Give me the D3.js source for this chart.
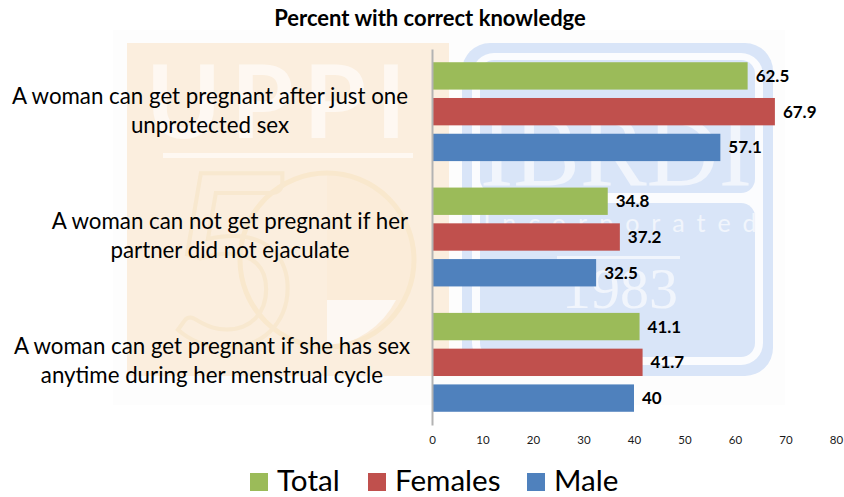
<!DOCTYPE html>
<html>
<head>
<meta charset="utf-8">
<script src="https://cdn.jsdelivr.net/npm/d3@7"></script>
<style>
    html, body { margin: 0; padding: 0; background: #fff; }
    svg { display: block; font-family: Lato, "Open Sans", sans-serif; }
    .axis path { stroke: #b3b3b3; stroke-width: 2; }
    .axis line { display: none; }
</style>
</head>
<body>
<svg id="chart" width="844" height="497"></svg>
<script>
//Chart data.
var questions = [
    ["A woman can get pregnant after just one", "unprotected sex"],
    ["A woman can not get pregnant if her", "partner did not ejaculate"],
    ["A woman can get pregnant if she has sex", "anytime during her menstrual cycle"]
];
var seriesNames = ["Total", "Females", "Male"];
var seriesColors = ["#9bbb59", "#c0504d", "#4f81bd"];
var totalValues = [62.5, 34.8, 41.1];
var femaleValues = [67.9, 37.2, 41.7];
var maleValues = [57.1, 32.5, 40];
var xTicks = [0, 10, 20, 30, 40, 50, 60, 70, 80];

var seriesValues = [totalValues, femaleValues, maleValues];

var svg = d3.select("#chart");

var xScale = d3.scaleLinear().domain([0, 80]).range([432, 836]);
var yGroup = d3.scaleBand().domain(d3.range(questions.length)).range([49, 425]);
var yBar = d3.scaleBand().domain(d3.range(seriesNames.length))
    .range([0, yGroup.bandwidth()])
    .paddingInner(0.235)
    .paddingOuter(0.37);

drawBackground();

//Title.
svg.append("text")
    .attr("x", 430)
    .attr("y", 26)
    .attr("text-anchor", "middle")
    .style("font-size", "22px")
    .style("font-weight", "bold")
    .style("fill", "#000")
    .text("Percent with correct knowledge");

//Bars and their value labels.
seriesValues.forEach(function (values, s) {
    svg.selectAll(".bar" + s)
        .data(values)
        .enter()
        .append("rect")
        .attr("class", "bar" + s)
        .attr("x", xScale(0))
        .attr("y", function (d, i) { return yGroup(i) + yBar(s); })
        .attr("width", function (d) { return xScale(d) - xScale(0); })
        .attr("height", yBar.bandwidth())
        .style("fill", seriesColors[s]);

    svg.selectAll(".label" + s)
        .data(values)
        .enter()
        .append("text")
        .attr("class", "label" + s)
        .attr("x", function (d) { return xScale(d) + 8; })
        .attr("y", function (d, i) { return yGroup(i) + yBar(s) + yBar.bandwidth() / 2 + 6; })
        .style("font-size", "17px")
        .style("font-weight", "bold")
        .style("fill", "#000")
        .text(function (d) { return d; });
});

//Category labels, two lines each.
var labelCentres = [210, 230, 212];
questions.forEach(function (lines, i) {
    var text = svg.append("text")
        .attr("text-anchor", "middle")
        .style("font-size", "22.3px")
        .style("fill", "#000");
    lines.forEach(function (line, k) {
        text.append("tspan")
            .attr("x", labelCentres[i])
            .attr("y", yGroup(i) + yGroup.bandwidth() / 2 - 8 + k * 29)
            .text(line);
    });
});

//Vertical category axis line.
var yAxis = d3.axisLeft(d3.scaleLinear().domain([0, 1]).range([425, 49])).tickValues([]).tickSize(0);
svg.append("g")
    .attr("class", "axis")
    .attr("transform", "translate(" + xScale(0) + ",0)")
    .call(yAxis);

//Value axis, labels only.
var xAxis = d3.axisBottom(xScale).tickValues(xTicks).tickSize(0).tickPadding(0);
var xAxisG = svg.append("g")
    .attr("class", "axis")
    .attr("transform", "translate(0,436)")
    .call(xAxis);
xAxisG.select(".domain").remove();
xAxisG.selectAll("text")
    .style("font-size", "11.5px")
    .style("fill", "#1a1a1a")
    .style("font-family", "Lato, sans-serif");

//Legend.
var legendX = [250, 368, 527];
seriesNames.forEach(function (name, s) {
    svg.append("rect")
        .attr("x", legendX[s])
        .attr("y", 473)
        .attr("width", 18)
        .attr("height", 18)
        .style("fill", seriesColors[s]);
    svg.append("text")
        .attr("x", legendX[s] + 27)
        .attr("y", 491)
        .style("font-size", "29.6px")
        .style("fill", "#000")
        .text(name);
});

//Faded logos behind the chart.
function drawBackground() {
    var serif = "'Liberation Serif', serif";
    var blue = "#d9e5f8";
    var paleBlue = "#f1f5fc";

    svg.append("rect").attr("x", 113).attr("y", 30).attr("width", 672).attr("height", 375).style("fill", "#fdfdfd");

    //Left logo.
    svg.append("rect").attr("x", 127).attr("y", 43).attr("width", 322).attr("height", 333).style("fill", "#fbeede");
    svg.append("text").attr("x", 281).attr("y", 138).attr("text-anchor", "middle")
        .style("font-size", "101px").style("font-weight", "bold").style("letter-spacing", "10px")
        .style("fill", "#fef8f2").text("UPPI");
    svg.append("rect").attr("x", 163).attr("y", 153).attr("width", 250).attr("height", 5).style("fill", "#fef8f2");
    svg.append("path").attr("d", "M327 173 A87 87 0 0 1 414 260 A87 87 0 0 1 327 347 Z").style("fill", "#fbecd9");
    svg.append("path").attr("d", "M327 300 L396 300 A87 87 0 0 1 327 347 Z").style("fill", "#fdf8f3");
    svg.append("circle").attr("cx", 327).attr("cy", 260).attr("r", 87)
        .style("fill", "none").style("stroke", "#f9e8cd").style("stroke-width", 5);
    svg.append("text").attr("x", 234).attr("y", 346).attr("text-anchor", "middle")
        .style("font-size", "240px").style("fill", "none").style("stroke", "#f8e8cf").style("stroke-width", 4).text("5");

    //Right logo.
    svg.append("rect").attr("x", 462).attr("y", 43).attr("width", 311).attr("height", 333).attr("rx", 28).style("fill", blue);
    svg.append("rect").attr("x", 472).attr("y", 53).attr("width", 291).attr("height", 312).attr("rx", 22).style("fill", "#fbfcfe");
    svg.append("rect").attr("x", 480).attr("y", 60).attr("width", 275).attr("height", 133).attr("rx", 14).style("fill", blue);
    svg.append("rect").attr("x", 480).attr("y", 203).attr("width", 275).attr("height", 154).attr("rx", 14).style("fill", blue);
    svg.append("text").attr("x", 616).attr("y", 185).attr("text-anchor", "middle")
        .style("font-size", "100px").style("font-family", serif).style("fill", paleBlue).text("IBRDI");
    svg.append("text").attr("x", 626).attr("y", 232).attr("text-anchor", "middle")
        .style("font-size", "25px").style("letter-spacing", "12px").style("fill", paleBlue).text("Incorporated");
    svg.append("rect").attr("x", 557).attr("y", 256).attr("width", 123).attr("height", 3).style("fill", paleBlue);
    svg.append("text").attr("x", 620).attr("y", 308).attr("text-anchor", "middle")
        .style("font-size", "58px").style("font-family", serif).style("fill", paleBlue).text("1983");
}
</script>
</body>
</html>
